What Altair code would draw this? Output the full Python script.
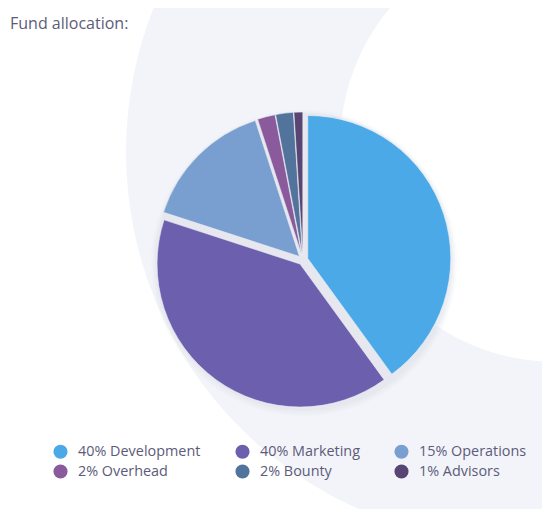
import math
import altair as alt
import pandas as pd

# ---- data ----
labels = ["40% Development", "40% Marketing", "15% Operations",
          "2% Overhead", "2% Bounty", "1% Advisors"]
values = [40, 40, 15, 2, 2, 1]
colors = ["#4ba9e8", "#6b5fae", "#789fcf", "#8a5a9c", "#52739b", "#594574"]
title_text = "Fund allocation:"

TOTAL = sum(values)
W, H = 534, 501
CX, CY = 295, 252      # pie centre (plot coords)
R = 143
D = 5                  # explode distance
BG = "#f3f4f9"
TXT = "#5c5b7a"
FONT = "Open Sans"

df = pd.DataFrame({"label": labels, "value": values, "idx": list(range(len(labels)))})

one = alt.Data(values=[{"k": 1}])

def disc(cx, cy, r, color, opacity=1.0):
    return alt.Chart(one).mark_arc(
        theta=0, theta2=2 * math.pi, radius=r, color=color, opacity=opacity
    ).encode(x=alt.value(cx), y=alt.value(cy))

ring_outer = disc(508, 144, 390, BG)
ring_inner = disc(548, 138, 216, "#ffffff")
shadow3 = disc(CX + 1, CY + 3, R + 10, "#d9dbe6", 0.12)
shadow2 = disc(CX + 1, CY + 3, R + 8, "#d9dbe6", 0.18)
shadow1 = disc(CX + 1, CY + 2, R + 6, "#d9dbe6", 0.25)
gapfill = disc(CX, CY, R + 3, "#e7e8ef")

pie = alt.Chart(df).transform_window(
    cum="sum(value)", sort=[{"field": "idx"}], frame=[None, 0]
).transform_calculate(
    t0="datum.cum - datum.value",
    mid=f"(datum.cum - datum.value/2)/{TOTAL}*2*PI",
).transform_calculate(
    px=f"{CX} + {D}*sin(datum.mid)",
    py=f"{CY} - {D}*cos(datum.mid)",
).mark_arc(radius=R, stroke="#eef0f5", strokeWidth=0.6).encode(
    theta=alt.Theta("t0:Q", scale=alt.Scale(domain=[0, TOTAL])),
    theta2="cum:Q",
    x=alt.X("px:Q", scale=None, axis=None),
    y=alt.Y("py:Q", scale=None, axis=None),
    color=alt.Color(
        "label:N",
        scale=alt.Scale(domain=labels, range=colors),
        legend=alt.Legend(
            title=None, orient="none", legendX=45, legendY=436, columns=3,
            direction="horizontal",
            symbolType="circle", symbolSize=200, symbolStrokeWidth=0,
            symbolOpacity=1, labelFont=FONT, labelFontSize=14.4,
            labelColor=TXT, labelOffset=10, rowPadding=4,
            columnPadding=34, labelLimit=300,
        ),
    ),
)

title = alt.Chart(alt.Data(values=[{"t": title_text}])).mark_text(
    align="left", baseline="alphabetic", font=FONT, fontSize=16, color=TXT
).encode(x=alt.value(2), y=alt.value(21), text="t:N")

chart = alt.layer(
    ring_outer, ring_inner, shadow3, shadow2, shadow1, gapfill, pie, title
).properties(
    width=W, height=H, padding=0, autosize=alt.AutoSizeParams(type="none")
).configure_view(stroke=None)

chart.save("out.html", embed_options={"renderer": "svg", "actions": False})
